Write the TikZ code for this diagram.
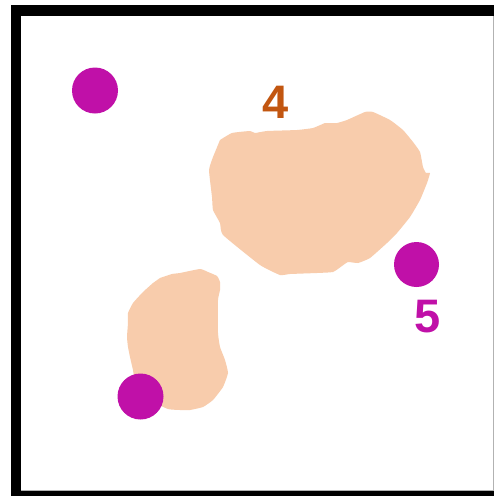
\documentclass[tikz,border=0pt]{standalone}
\usepackage{fontspec}
\setmainfont{Liberation Sans}
\definecolor{peach}{RGB}{248,204,172}
\definecolor{dotpurple}{RGB}{192,16,168}
\definecolor{rust}{RGB}{194,86,16}
\tikzset{
  region/.style={fill=peach, draw=none},
  dot/.style={circle, fill=dotpurple, draw=none, minimum size=46pt, inner sep=0pt},
  tag/.style={inner sep=0pt, font=\bfseries\fontsize{47}{47}\selectfont}
}
\begin{document}
\begin{tikzpicture}[x=1pt, y=-1pt]
  % canvas and frame
  \useasboundingbox (0,0) rectangle (494,496);
  \fill[white] (0,0) rectangle (494,496);
  \fill[black] (11,5) rectangle (494,496);
  \fill[white] (21,16) rectangle (493,490);
  \draw[gray!60, line width=0.8pt] (493,16) -- (493,490) -- (21,490);

  % large region
  \fill[region] plot[smooth, tension=0.25] coordinates {
    (220,140) (232,133) (250,131) (255,133) (267,131) (297,130) (313,128)
    (325,123) (328,123) (337,123) (347,120) (365,112) (373,112) (390,120)
    (403,130) (413,142) (420,152) (423,167) (426,173) (430,173) (427,183)
    (420,200) (410,217) (397,233) (387,243) (370,258) (358,263) (348,262)
    (342,266) (333,272) (317,273) (290,274) (280,275) (260,265) (223,235)
    (220,223) (213,210) (212,197) (209,170) (213,157)
  } -- cycle;

  % small region
  \fill[region] plot[smooth, tension=0.25] coordinates {
    (160,278) (172,274) (180,273) (200,269) (208,272) (217,276) (220,282)
    (220,290) (218,300) (218,333) (220,347) (225,360) (228,373) (223,387)
    (213,400) (203,407) (190,410) (180,410) (168,409) (150,400) (135,380)
    (133,370) (130,357) (128,347) (127,337) (128,323) (128,313) (133,303)
    (143,292) (153,283)
  } -- cycle;

  % markers
  \node[dot] (d1) at (95,90.5) {};
  \node[dot, minimum size=45pt] (d2) at (416.5,264.5) {};
  \node[dot] (d3) at (140.5,396.5) {};

  % labels
  \node[tag, text=rust] (l4) at (276,102) {4};
  \node[tag, text=dotpurple] (l5) at (428,317) {5};
\end{tikzpicture}
\end{document}
